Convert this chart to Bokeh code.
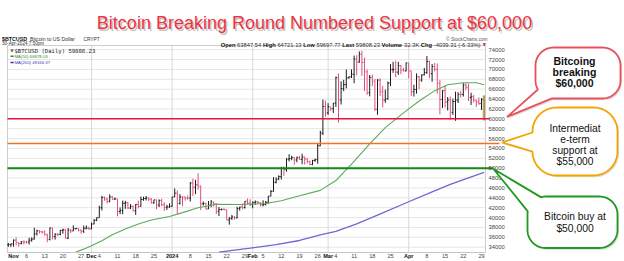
import numpy as np
import pandas as pd
from bokeh.plotting import figure
from bokeh.models import Range1d, ColumnDataSource
from bokeh.core.properties import value
from bokeh.embed import file_html
from bokeh.resources import INLINE

# ------------------------------------------------------------------ data
first_bar_date = "2023-10-30"
last_bar_date = "2024-04-30"

opens = [34500, 34500, 34650, 35420, 34940, 34730, 35080, 35050, 35040, 35420, 35640, 36700, 37310, 37140, 37060, 36500,
         35550, 37880, 36160, 36600, 36580, 37380, 37480, 35800, 37440, 37290, 37720, 37800, 37460, 37240, 37830, 37850,
         37720, 38690, 39460, 39970, 41980, 44080, 43770, 43290, 44170, 43720, 43790, 41240, 41450, 42890, 43020, 41940,
         42280, 41360, 42660, 42260, 43660, 43860, 43990, 43730, 43010, 43580, 42520, 43440, 42580, 42070, 42140,
         42280, 44180, 44950, 42850, 44180, 44160, 43970, 43930, 46970, 46120, 46630, 46340, 42780, 42840, 41730, 42510,
         43140, 42740, 41260, 41620, 41660, 41580, 39520, 39840, 40100, 39930, 41820, 42120, 42030, 43300, 42950,
         42580, 43080, 43190, 43000, 42580, 42660, 43090, 44340, 45300, 47150, 47770, 48290, 50000, 49730, 51830, 51940,
         52130, 51660, 52120, 51780, 52260, 51850, 51300, 50740, 51570, 51730, 54520, 57090, 62500,
         61200, 62440, 62030, 63170, 68330, 63800, 66110, 66930, 68300, 68500, 69020, 72120, 71480, 73080, 71400, 69500,
         65300, 68390, 67610, 61930, 67840, 65500, 63780, 64060, 67230, 69960, 70000, 69450, 70780, 69900, 69700,
         71320, 69700, 65500, 65950, 68500, 67840, 68900, 69360, 71620, 69140, 70590, 70060, 67200, 63900, 65700, 63400,
         63800, 61300, 63500, 63800, 64940, 64930, 66840, 66400, 64300, 64500, 63770, 63460, 63120, 63848]
highs = [34840, 34720, 35560, 35970, 34950, 35260, 35380, 35290, 35890, 35990, 37930, 37520, 37410, 37230, 37420, 36750,
         37980, 37930, 36830, 36850, 37530, 37760, 37660, 37880, 37680, 38420, 37900, 37820, 37580, 38380, 38400, 38150,
         38980, 39700, 40000, 42400, 44400, 44290, 44050, 44700, 44360, 44040, 43800, 42050, 43430, 43390, 43090, 42700,
         42420, 42730, 43430, 44240, 44220, 44370, 44020, 43940, 43590, 43600, 43680, 43800, 43120, 42590, 42880,
         44180, 45900, 45500, 44750, 44320, 44190, 44480, 47200, 47890, 47650, 48970, 46500, 43250, 43010, 43350, 43560,
         43190, 42930, 42150, 41830, 41870, 41640, 40120, 40530, 40290, 42180, 42200, 42800, 43300, 43840, 43720,
         43260, 43460, 43360, 43110, 43490, 43350, 44350, 45560, 48190, 48150, 48550, 50280, 50350, 52040, 52820, 52530,
         52160, 52350, 52480, 52950, 52330, 52000, 51530, 51680, 51950, 54940, 57570, 63900, 63680,
         63170, 62440, 63230, 68540, 69170, 67600, 67900, 69990, 68580, 70010, 72800, 72900, 73650, 73780, 72400, 70000,
         68870, 68930, 68100, 68050, 68200, 66660, 65900, 67580, 71100, 71550, 71750, 71550, 70900, 70340, 71370,
         71320, 69700, 66900, 69200, 68700, 69000, 70300, 72700, 71750, 71100, 71300, 71200, 67900, 65800, 66800, 64400,
         64500, 64100, 65500, 65400, 65650, 67200, 67200, 67100, 65280, 64800, 63900, 64300, 64200, 64721]
lows = [34080, 34060, 34100, 34340, 34100, 34580, 34540, 34740, 34520, 35110, 35560, 36350, 36750, 36740, 36340, 34980,
        35370, 35560, 35530, 36230, 36400, 36730, 35780, 35640, 36880, 37250, 37610, 37170, 36720, 36890, 37600, 37520,
        37620, 38650, 39250, 39970, 41420, 43390, 42830, 43080, 43600, 43590, 40240, 40690, 40670, 41770, 41690, 41720,
        41260, 40530, 41840, 42200, 43390, 43450, 43350, 42800, 42760, 41670, 42110, 42340, 41330, 41540, 41970,
        42200, 44150, 40750, 42630, 42290, 43430, 43630, 43240, 44330, 44740, 45650, 41500, 42450, 41700, 41730, 42080,
        42210, 40690, 40300, 41440, 41500, 39460, 38550, 39510, 39570, 39820, 41400, 41640, 41800, 42700, 42300,
        41880, 42580, 42900, 42260, 42270, 42450, 42780, 44330, 45260, 46900, 47560, 47700, 48450, 49290, 51340, 51600,
        50680, 51190, 51710, 50800, 50710, 50960, 50600, 50610, 51300, 50900, 54450, 56700, 60390,
        60790, 61600, 61170, 62400, 59220, 62900, 65600, 66150, 68120, 68250, 67200, 68800, 71340, 68680, 65630, 64830,
        64550, 66640, 61590, 60800, 64600, 62300, 63250, 63850, 66620, 69300, 68400, 68900, 69050, 69600, 69600,
        68200, 64600, 64500, 65100, 66000, 67500, 68800, 69100, 68200, 67500, 69600, 65100, 60900, 62200, 62300, 61700,
        59800, 60800, 59600, 63200, 64300, 64500, 65800, 63600, 62800, 63300, 62400, 62800, 61800, 59698]
closes = [34500, 34650, 35420, 34940, 34730, 35080, 35050, 35040, 35420, 35640, 36700, 37310, 37140, 37060, 36500, 35550,
          37880, 36160, 36600, 36580, 37380, 37480, 35800, 37440, 37290, 37720, 37800, 37460, 37240, 37830, 37850, 37720,
          38690, 39460, 39970, 41980, 44080, 43770, 43290, 44170, 43720, 43790, 41240, 41450, 42890, 43020, 41940, 42280,
          41360, 42660, 42260, 43660, 43860, 43990, 43730, 43010, 43580, 42520, 43440, 42580, 42070, 42140, 42280,
          44180, 44950, 42850, 44180, 44160, 43970, 43930, 46970, 46120, 46630, 46340, 42780, 42840, 41730, 42510, 43140,
          42740, 41260, 41620, 41660, 41580, 39520, 39840, 40100, 39930, 41820, 42120, 42030, 43300, 42950, 42580,
          43080, 43190, 43000, 42580, 42660, 43090, 44340, 45300, 47150, 47770, 48290, 50000, 49730, 51830, 51940, 52130,
          51660, 52120, 51780, 52260, 51850, 51300, 50740, 51570, 51730, 54520, 57090, 62500, 61200,
          62440, 62030, 63170, 68330, 63800, 66110, 66930, 68300, 68500, 69020, 72120, 71480, 73080, 71400, 69500, 65300,
          68390, 67610, 61930, 67840, 65500, 63780, 64060, 67230, 69960, 70000, 69450, 70780, 69900, 69700, 71320,
          69700, 65500, 65950, 68500, 67840, 68900, 69360, 71620, 69140, 70590, 70060, 67200, 63900, 65700, 63400, 63800,
          61300, 63500, 63800, 64940, 64930, 66840, 66400, 64300, 64500, 63770, 63460, 63120, 63848, 59808]

ma50_dates = ["2023-11-25", "2023-11-28", "2023-12-01", "2023-12-05", "2023-12-09", "2023-12-14", "2023-12-19",
              "2023-12-24", "2023-12-31", "2024-01-05", "2024-01-11", "2024-01-18", "2024-01-27", "2024-02-06",
              "2024-02-12", "2024-02-19", "2024-02-27", "2024-03-04", "2024-03-10", "2024-03-17", "2024-03-23",
              "2024-03-30", "2024-04-05", "2024-04-11", "2024-04-16", "2024-04-22", "2024-04-27", "2024-04-30"]
ma50_values = [33000, 33600, 34300, 35300, 36500, 37700, 38700, 39500, 40200, 41000, 42000, 42700, 42650, 42850,
               43400, 44400, 45500, 47500, 50800, 54900, 58200, 61200, 63600, 65700, 66900, 67300, 67300, 66878]

ma200_dates = ["2024-01-19", "2024-01-31", "2024-02-10", "2024-02-19", "2024-02-27", "2024-03-04", "2024-03-12",
               "2024-03-20", "2024-04-01", "2024-04-10", "2024-04-17", "2024-04-24", "2024-04-30"]
ma200_values = [33000, 33800, 34500, 35350, 36500, 37200, 38700, 40500, 43200, 45200, 46700, 48050, 49166]

support_levels = [60000, 55000, 50000]
support_colors = ["#e8143c", "#f07424", "#138a13"]

price_ticks = [34000, 36000, 38000, 40000, 42000, 44000, 46000, 48000, 50000, 52000, 54000, 56000, 58000,
               60000, 62000, 64000, 66000, 68000, 70000, 72000, 74000]

date_ticks = ["2023-11-01", "2023-11-06", "2023-11-13", "2023-11-20", "2023-11-27", "2023-12-01", "2023-12-04",
              "2023-12-11", "2023-12-18", "2023-12-25", "2024-01-01", "2024-01-08", "2024-01-15", "2024-01-22",
              "2024-01-29", "2024-02-01", "2024-02-05", "2024-02-12", "2024-02-19", "2024-02-26", "2024-03-01",
              "2024-03-04", "2024-03-11", "2024-03-18", "2024-03-25", "2024-04-01", "2024-04-08", "2024-04-15",
              "2024-04-22", "2024-04-29"]
date_tick_labels = ["Nov", "6", "13", "20", "27", "Dec", "4", "11", "18", "25", "2024", "8", "15", "22", "29",
                    "Feb", "5", "12", "19", "26", "Mar", "4", "11", "18", "25", "Apr", "8", "15", "22", "29"]
month_lines = ["2023-12-01", "2024-01-01", "2024-02-01", "2024-03-01", "2024-04-01"]

title_text = "Bitcoin Breaking Round Numbered Support at $60,000"

# ------------------------------------------------------------------ layout helpers
W, H = 624, 261
REF_DATE = pd.Timestamp("2023-11-06")
REF_PX, PX_PER_DAY = 26.0, 2.6
REF_PRICE, REF_PY, PX_PER_USD = 60000.0, 118.3, 0.004937
FL, FR, FT, FB = 7, 485, 45, 252          # chart panel (pixels)


def X(px):
    return (px - REF_PX) / PX_PER_DAY


def Y(py):
    return REF_PRICE + (REF_PY - py) / PX_PER_USD


def day(d):
    return (pd.Timestamp(d) - REF_DATE).days


p = figure(width=W, height=H, x_range=Range1d(X(0), X(W)), y_range=Range1d(Y(H), Y(0)),
           toolbar_location=None, x_axis_location=None, y_axis_location=None,
           output_backend="svg", min_border=0)
p.min_border_left = p.min_border_right = p.min_border_top = p.min_border_bottom = 0
p.outline_line_color = None
p.background_fill_color = "white"
p.border_fill_color = "white"
p.xgrid.visible = False
p.ygrid.visible = False


def txt(px, py, s, size, color="#222222", bold=False, align="left", baseline="alphabetic",
        font="Liberation Sans", alpha=1.0):
    p.text(x=[X(px)], y=[Y(py)], text=[s], text_font=value(font), text_font_size=value(f"{size}px"),
           text_color=color, text_font_style="bold" if bold else "normal", text_align=align,
           text_baseline=baseline, text_alpha=alpha)


# ------------------------------------------------------------------ panel, grid
p.segment(x0=X(FL), x1=X(FR), y0=price_ticks, y1=price_ticks, line_color="#e6e6e6", line_width=1)
mx = [day(d) for d in month_lines]
p.segment(x0=mx, x1=mx, y0=Y(FB), y1=Y(FT), line_color="#d9d9d9", line_width=1)
p.quad(left=X(FL), right=X(FR), top=Y(FT), bottom=Y(FB), fill_color=None, line_color="#cdcdcd", line_width=1)

# ------------------------------------------------------------------ price bars
n = len(closes)
xb = np.arange(n) + day(first_bar_date)
prev = [opens[0]] + closes[:-1]
bar_colors = ["#1c1c1c" if c >= pc else "#e0507a" for c, pc in zip(closes, prev)]
bars = ColumnDataSource(dict(x=xb, xl=xb - 0.42, xr=xb + 0.42, o=opens, h=highs, l=lows, c=closes, col=bar_colors))

p.vbar(x=[xb[-1]], bottom=[lows[-1]], top=[highs[-1]], width=1.15, fill_color="#a9d873", line_color=None)
p.segment(x0="x", y0="l", x1="x", y1="h", line_color="col", line_width=1, source=bars)
p.segment(x0="xl", y0="o", x1="x", y1="o", line_color="col", line_width=1, source=bars)
p.segment(x0="x", y0="c", x1="xr", y1="c", line_color="col", line_width=1, source=bars)

# moving averages
p.line([day(d) for d in ma50_dates], ma50_values, line_color="#5aaa5a", line_width=1.1)
p.line([day(d) for d in ma200_dates], ma200_values, line_color="#6a6ad2", line_width=1.3)

# support lines
sup = ColumnDataSource(dict(x0=[X(FL)] * 3, x1=[X(489), X(499), X(493)], y=support_levels,
                            col=support_colors, w=[1.6, 1.7, 2.0]))
p.segment(x0="x0", x1="x1", y0="y", y1="y", line_color="col", line_width="w", source=sup)

# ------------------------------------------------------------------ axes labels (drawn as text)
p.text(x=X(488), y=price_ticks, text=[str(t) for t in price_ticks], text_font=value("Liberation Sans"),
       text_font_size=value("5.8px"), text_color="#444444", text_align="left", text_baseline="middle")

p.segment(x0=X(FL), x1=X(FR), y0=Y(FB), y1=Y(FB), line_color="#bdbdbd", line_width=1, line_dash="1 1")
is_bold = [not (lab.isdigit() and len(lab) < 4) for lab in date_tick_labels]
for bold in (False, True):
    xs = [day(d) for d, b in zip(date_ticks, is_bold) if b == bold]
    ls = [lab for lab, b in zip(date_tick_labels, is_bold) if b == bold]
    p.text(x=xs, y=Y(255.8), text=ls, text_font=value("Liberation Sans"), text_font_size=value("5.6px"),
           text_color="#111111" if bold else "#444444", text_font_style="bold" if bold else "normal",
           text_align="center", text_baseline="middle")

# ------------------------------------------------------------------ title
txt(315.5, 24.5, title_text, 18, color="#7a7a7a", align="center", alpha=0.45)
txt(314, 22.5, title_text, 18, color="#ef3340", align="center")

# ------------------------------------------------------------------ header lines
txt(1.5, 38.8, "$BTCUSD", 5.3, color="#111111", bold=True)
txt(29.5, 38.8, "Bitcoin to US Dollar", 5.2, color="#333333")
txt(83, 38.8, "CRYPT", 4.8, color="#333333")
txt(1.5, 43.3, "30-Apr-2024 7:50pm", 4.6, color="#333333")
txt(487, 38.5, "\u00a9 StockCharts.com", 4.8, color="#555555", align="right")

REG = {"0": .556, "1": .556, "2": .556, "3": .556, "4": .556, "5": .556, "6": .556, "7": .556, "8": .556,
       "9": .556, ".": .278, " ": .278, "-": .333, "(": .333, ")": .333, "%": .889, "K": .667}
BLD = {"O": .778, "p": .611, "e": .556, "n": .611, "H": .722, "i": .278, "g": .611, "h": .611, "L": .611,
       "o": .611, "w": .778, "a": .556, "s": .556, "t": .333, "V": .667, "l": .278, "u": .611, "m": .889, "C": .722}
segs = [("Open", True), ("63847.54", False), ("High", True), ("64721.13", False), ("Low", True),
        ("59697.77", False), ("Last", True), ("59808.23", False), ("Volume", True), ("32.3K", False),
        ("Chg", True), ("-4039.31 (-6.33%)", False)]
fs = 5.8
gap = 0.278 * fs


def wid(s, bold):
    tab = BLD if bold else REG
    return sum(tab.get(ch, 0.556) for ch in s) * fs


total = sum(wid(s, b) for s, b in segs) + gap * (len(segs) - 1) + 6
xcur = 486 - total
for s, b in segs:
    txt(xcur, 44.2, s, fs, color="#111111" if b else "#333333", bold=b)
    xcur += wid(s, b) + gap
txt(xcur + 2.2, 44.0, "\u25bc", 4.2, color="#cc2233", align="center", font="DejaVu Sans")

# legend inside the panel
txt(11.5, 50.2, "\u25bc", 4.0, color="#555555", align="center", baseline="middle", font="DejaVu Sans")
txt(14, 50.2, "$BTCUSD (Daily) 59808.23", 5.6, color="#222222", baseline="middle", font="DejaVu Sans Mono")
p.segment(x0=[X(10), X(10)], x1=[X(13.2), X(13.2)], y0=[Y(55.8), Y(62)], y1=[Y(55.8), Y(62)],
          line_color=["#2e8b2e", "#3434b4"], line_width=1.6)
txt(14, 55.8, "MA(50) 66878.03", 4.3, color="#2e8b2e", baseline="middle")
txt(14, 62, "MA(200) 49166.37", 4.3, color="#3434b4", baseline="middle")


# ------------------------------------------------------------------ callouts
def rr_points(x0, y0, x1, y1, r):
    pts = []
    for cx, cy, a0 in ((x1 - r, y0 + r, -90), (x1 - r, y1 - r, 0), (x0 + r, y1 - r, 90), (x0 + r, y0 + r, 180)):
        for a in np.linspace(a0, a0 + 90, 19):
            t = np.radians(a)
            pts.append((cx + r * np.cos(t), cy + r * np.sin(t)))
    dense = []
    for i in range(len(pts)):
        (ax, ay), (bx, by) = pts[i], pts[(i + 1) % len(pts)]
        k = max(1, int(np.hypot(bx - ax, by - ay) / 1.0))
        for j in range(k):
            dense.append((ax + (bx - ax) * j / k, ay + (by - ay) * j / k))
    return dense


def callout(box, r, tip, a, b, color, lw=1.8):
    pts = rr_points(*box, r)
    far = int(np.argmax([np.hypot(x - tip[0], y - tip[1]) for x, y in pts]))
    pts = pts[far:] + pts[:far]
    ia = int(np.argmin([np.hypot(x - a[0], y - a[1]) for x, y in pts]))
    ib = int(np.argmin([np.hypot(x - b[0], y - b[1]) for x, y in pts]))
    i1, i2 = sorted((ia, ib))
    path = pts[:i1 + 1] + [tip] + pts[i2:]
    p.patch([X(x + 1.6) for x, y in path], [Y(y + 1.8) for x, y in path], fill_color="#000000",
            fill_alpha=0.13, line_color=None)
    p.patch([X(x) for x, y in path], [Y(y) for x, y in path], fill_color="white",
            line_color=color, line_width=lw)


callout((535, 47, 620, 98), 18, (506.5, 116.5), (538, 89), (551, 98), "#e8505c")
for i, s in enumerate(["Bitcoing", "breaking", "$60,000"]):
    txt(574, 60.3 + 11.3 * i, s, 10.5, color="#111111", bold=True, align="center", baseline="middle")

callout((532, 107, 617, 175), 24, (501.5, 142), (532, 132), (534, 151), "#f4a300")
for i, s in enumerate(["Intermediat", "e-term", "support at", "$55,000"]):
    txt(574.5, 127.5 + 11.2 * i, s, 10.2, color="#111111", align="center", baseline="middle")

callout((527, 196, 617, 247.5), 18, (493, 168.5), (541, 196), (528, 211), "#1e9a1e")
for i, s in enumerate(["Bitcoin buy at", "$50,000"]):
    txt(574.5, 216.2 + 11.3 * i, s, 10.3, color="#111111", align="center", baseline="middle")

open("out.html", "w").write(file_html(p, INLINE))
